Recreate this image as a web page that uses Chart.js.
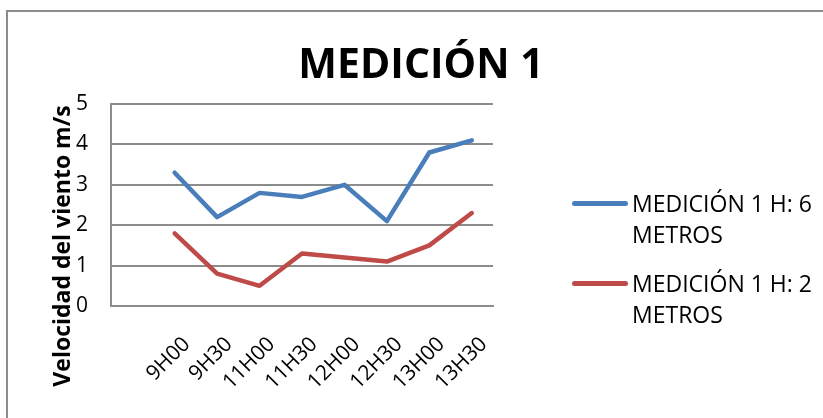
<!DOCTYPE html>
<html>
<head>
<meta charset="utf-8">
<script src="https://cdn.jsdelivr.net/npm/chart.js@4.4.1/dist/chart.umd.min.js"></script>
<style>
    html, body { margin: 0; padding: 0; background: #fff; overflow: hidden; }
    #wrap { position: relative; width: 823px; height: 418px; }
    #frame {
        position: absolute; left: 6px; top: 10px; width: 900px; height: 500px;
        border: 2px solid #8c8c8c; box-sizing: border-box;
    }
    #chart { position: absolute; left: 0; top: 0; }
    #legend { position: absolute; left: 572px; top: 188px; font-family: 'Open Sans', sans-serif; font-size: 23px; color: #000; }
    .item { position: relative; padding-left: 60px; line-height: 31px; margin-bottom: 18px; width: 200px; }
    .swatch { position: absolute; left: 0; top: 13px; width: 56px; height: 5px; border-radius: 3px; }
</style>
</head>
<body>
<div id="wrap">
    <div id="frame"></div>
    <canvas id="chart" width="823" height="418"></canvas>
    <div id="legend"></div>
</div>
<script>
// first category is blank in the original sheet
const categories = ['', '9H00', '9H30', '11H00', '11H30', '12H00', '12H30', '13H00', '13H30'];
const seriesNames = ['MEDICIÓN 1 H: 6 METROS', 'MEDICIÓN 1 H: 2 METROS'];
const alto6m = [null, 3.3, 2.2, 2.8, 2.7, 3.0, 2.1, 3.8, 4.1];
const alto2m = [null, 1.8, 0.8, 0.5, 1.3, 1.2, 1.1, 1.5, 2.3];
const yTicks = [0, 1, 2, 3, 4, 5];
const colors = ['#4a7ebb', '#be4b48'];
const chartTitle = 'MEDICIÓN 1';
const yTitle = 'Velocidad del viento m/s';

const fontFamily = "'Open Sans', 'Noto Sans', sans-serif";

// title and y axis title are placed like in the spreadsheet, not centred on the axis
const textPlugin = {
    id: 'sheetTexts',
    afterDraw(chart) {
        const c = chart.ctx;
        c.save();
        c.fillStyle = '#000';
        c.textAlign = 'center';
        c.textBaseline = 'alphabetic';
        c.font = 'bold 41px ' + fontFamily;
        c.fillText(chartTitle, 421, 78);

        c.translate(63, 246);
        c.rotate(-Math.PI / 2);
        c.textBaseline = 'middle';
        c.font = 'bold 23px ' + fontFamily;
        c.fillText(yTitle, 0, 0);
        c.restore();
    }
};

const ctx = document.getElementById('chart').getContext('2d');
const chart = new Chart(ctx, {
    type: 'line',
    data: {
        labels: categories,
        datasets: [
            { label: seriesNames[0], data: alto6m, borderColor: colors[0], backgroundColor: colors[0] },
            { label: seriesNames[1], data: alto2m, borderColor: colors[1], backgroundColor: colors[1] }
        ].map(ds => Object.assign(ds, {
            borderWidth: 4.5,
            pointRadius: 0,
            tension: 0,
            borderCapStyle: 'round',
            borderJoinStyle: 'round',
            spanGaps: false
        }))
    },
    options: {
        responsive: false,
        animation: false,
        layout: { padding: { left: 40, right: 330, top: 104, bottom: 0 } },
        plugins: {
            legend: { display: false },
            tooltip: { enabled: false },
            title: { display: false }
        },
        scales: {
            x: {
                offset: true,
                grid: { display: false, drawTicks: false },
                border: { display: true, color: '#8c8c8c', width: 2 },
                ticks: {
                    color: '#000',
                    font: { family: fontFamily, size: 21 },
                    minRotation: 45,
                    maxRotation: 45,
                    autoSkip: false,
                    padding: 26,
                    labelOffset: 12
                },
                afterFit: function(scale) { scale.height = 112; }
            },
            y: {
                min: 0,
                max: 5,
                afterBuildTicks: function(scale) {
                    scale.ticks = yTicks.map(v => ({ value: v }));
                },
                grid: { color: '#8c8c8c', lineWidth: 2, drawTicks: false },
                border: { display: true, color: '#8c8c8c', width: 2 },
                ticks: {
                    color: '#000',
                    font: { family: fontFamily, size: 21 },
                    padding: 23
                },
                afterFit: function(scale) { scale.width = 71; }
            }
        }
    },
    plugins: [textPlugin]
});

// legend built from the datasets, with wrapped text like the original
const legend = document.getElementById('legend');
chart.data.datasets.forEach(ds => {
    const item = document.createElement('div');
    item.className = 'item';
    const sw = document.createElement('span');
    sw.className = 'swatch';
    sw.style.background = ds.borderColor;
    item.appendChild(sw);
    item.appendChild(document.createTextNode(ds.label));
    legend.appendChild(item);
});
</script>
</body>
</html>
